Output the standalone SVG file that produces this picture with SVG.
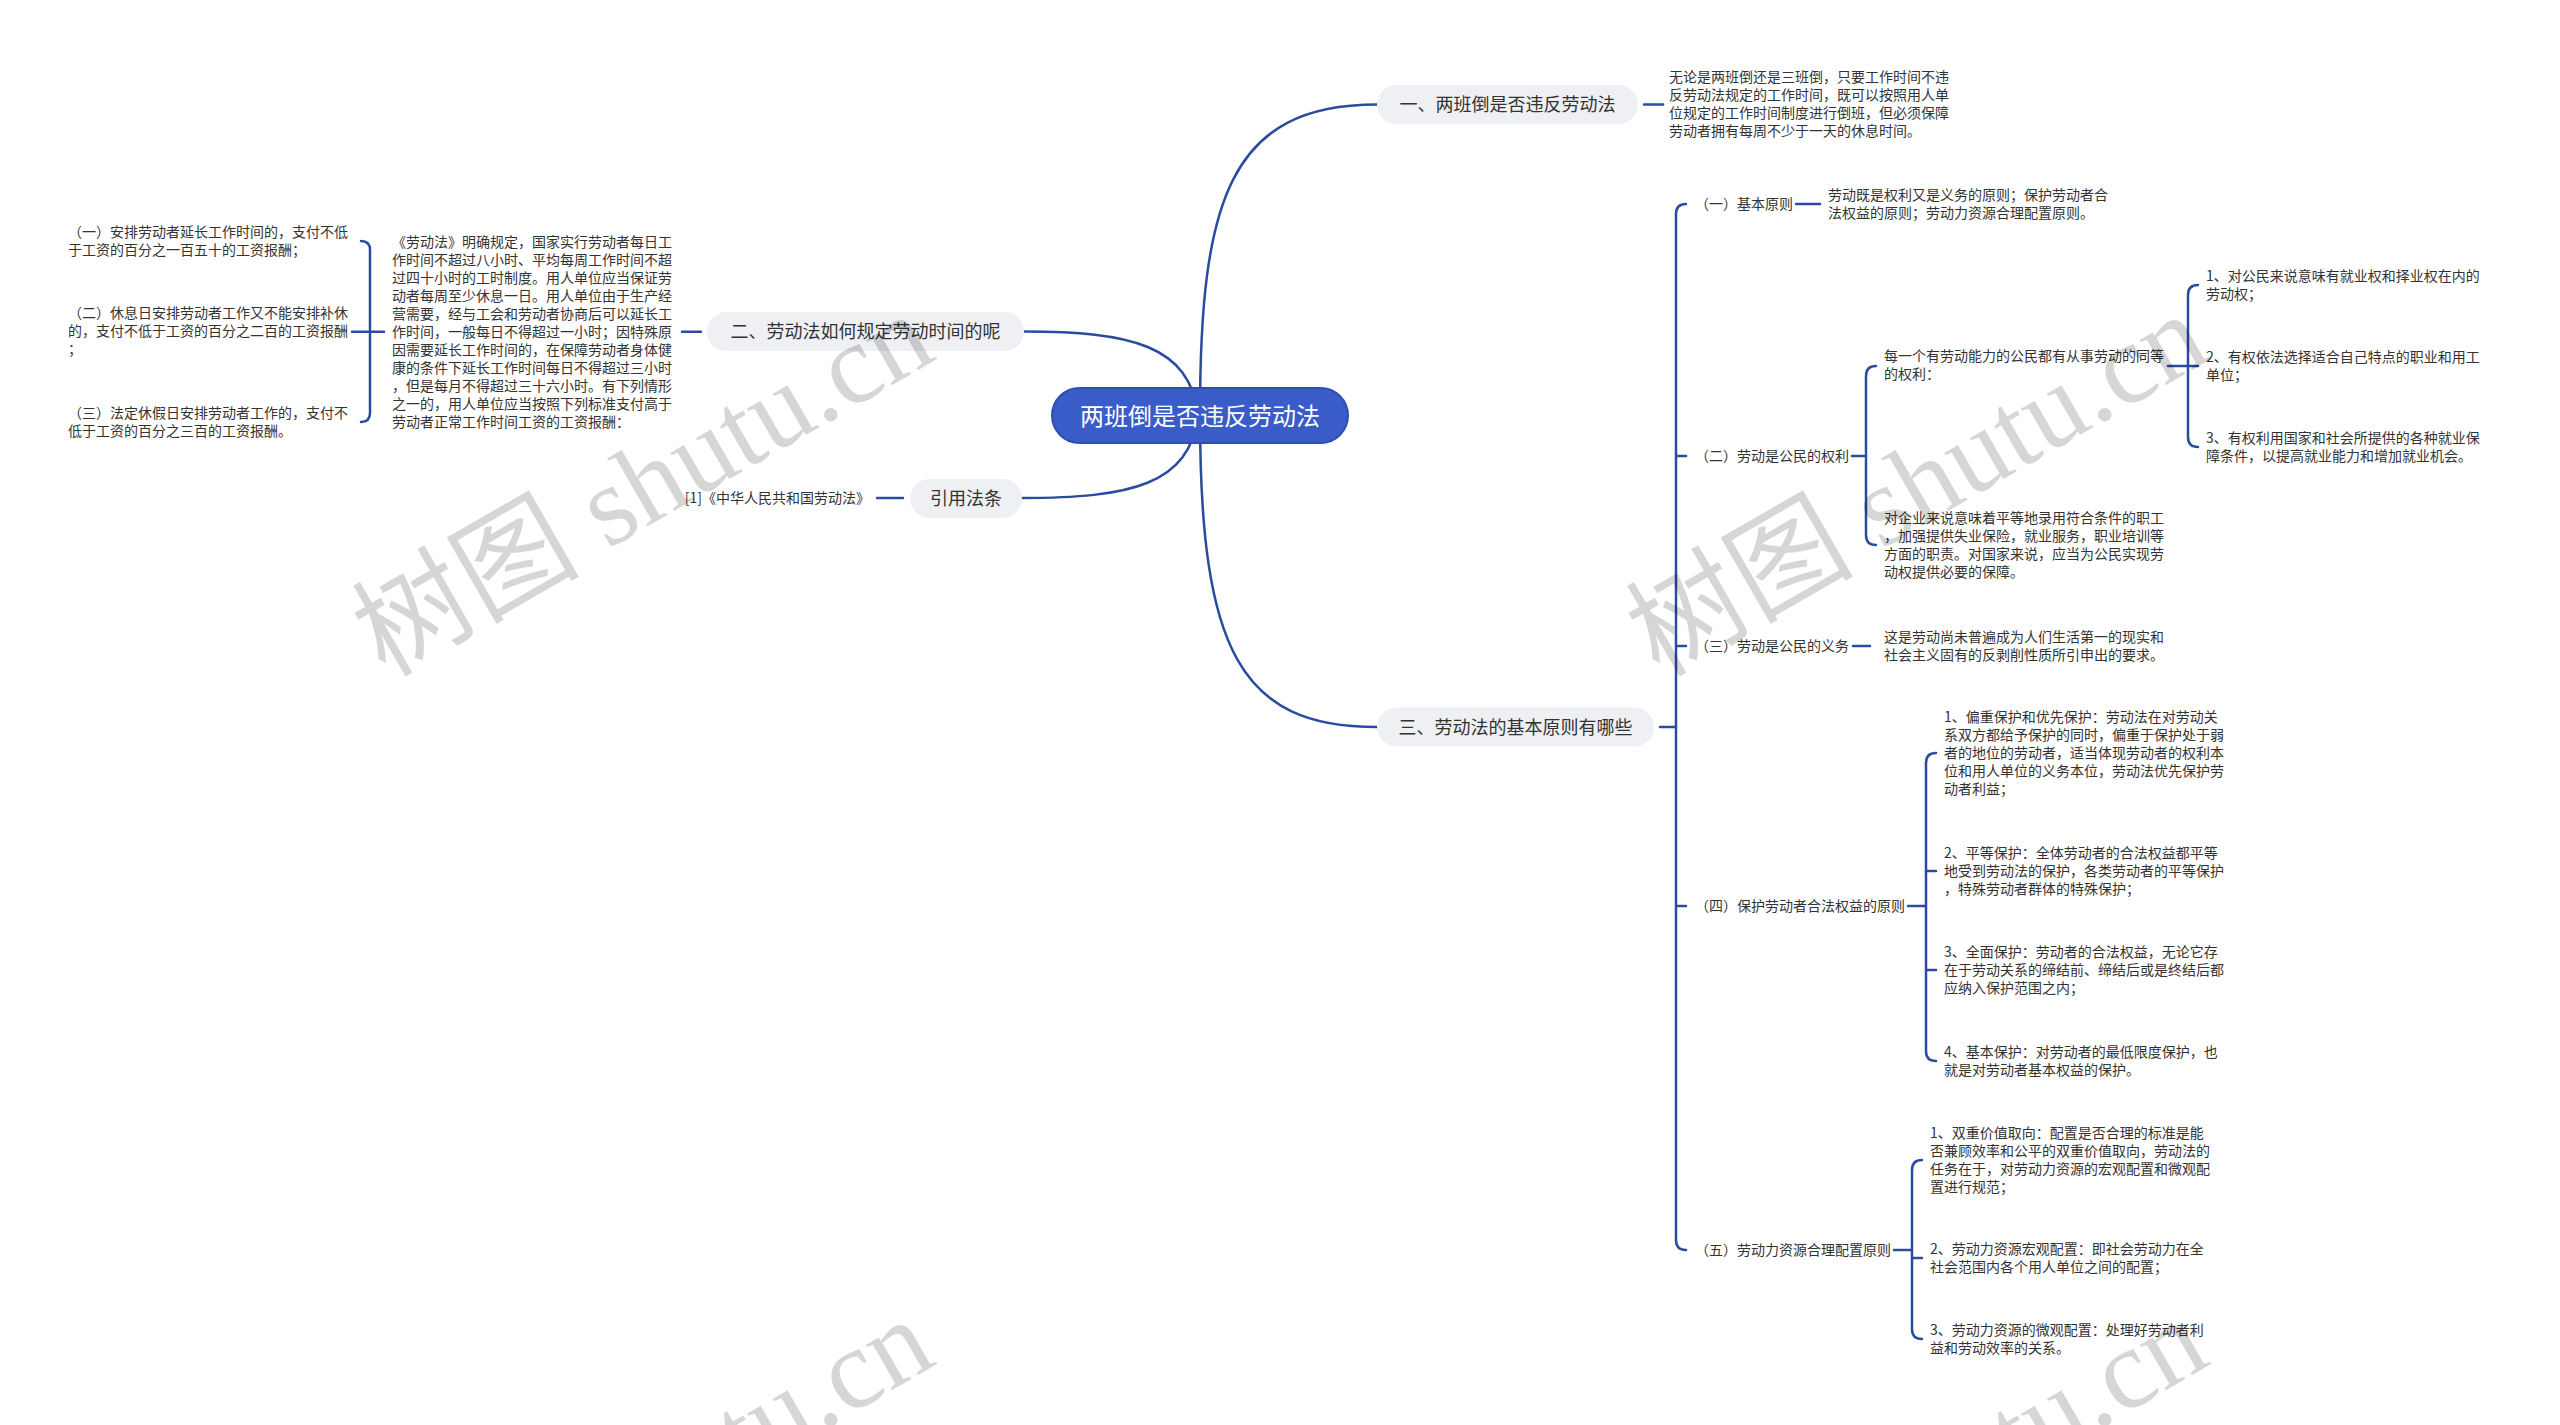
<svg xmlns="http://www.w3.org/2000/svg" width="2560" height="1425" viewBox="0 0 2560 1425">
<style>
.c{fill:none;stroke:#2a4b9e;stroke-width:2.5;stroke-linecap:round}
.pill{fill:#eef0f4}
text{font-family:"Noto Sans CJK SC","Liberation Sans",sans-serif}
.t{font-size:14px;fill:#333}
.p{font-size:18px;fill:#333;text-anchor:middle}
.m{font-size:24px;fill:#fff;text-anchor:middle}
.wm{font-family:"Liberation Serif","Noto Sans CJK SC",serif;font-size:114px;fill:#000;fill-opacity:0.16;text-anchor:middle}
</style>
<rect width="2560" height="1425" fill="#fff"/>
<g id="connectors">
<path class="c" d="M1200 415 C1200 200 1230 104.5 1377 104.5"/>
<path class="c" d="M1198 415 C1190 345 1130 331.5 1024 331.5"/>
<path class="c" d="M1198 415 C1190 485 1130 498 1022 498"/>
<path class="c" d="M1200 415 C1200 650 1240 727 1377 727"/>
<path class="c" d="M1644 104.5 H1663"/>
<path class="c" d="M682 331.7 H701"/>
<path class="c" d="M352 331.7 H384 M361 241 Q370 241 370 250 L370 413 Q370 422 361 422"/>
<path class="c" d="M877 498 H903"/>
<path class="c" d="M1660 727 H1676 M1686 204 Q1676 204 1676 214 L1676 1240 Q1676 1250 1686 1250 M1676 456 H1686 M1676 646 H1686 M1676 906 H1686"/>
<path class="c" d="M1796 204 H1820"/>
<path class="c" d="M1852 456 H1866 M1876 366 Q1866 366 1866 376 L1866 535 Q1866 545 1876 545"/>
<path class="c" d="M2168 366 H2198 M2198 285 Q2188 285 2188 295 L2188 437 Q2188 447 2198 447"/>
<path class="c" d="M1853 646 H1870"/>
<path class="c" d="M1908 906 H1926 M1936 753 Q1926 753 1926 763 L1926 1051 Q1926 1061 1936 1061 M1926 871 H1936 M1926 970 H1936"/>
<path class="c" d="M1894 1250 H1912 M1922 1160 Q1912 1160 1912 1170 L1912 1329 Q1912 1339 1922 1339 M1912 1258 H1922"/>
</g>
<g id="root">
<rect x="1052" y="388" width="296" height="55" rx="27.5" fill="#3a5cc8" stroke="#2e4fae" stroke-width="2"/>
<text class="m" x="1200" y="424.6">两班倒是否违反劳动法</text>
</g>
<g id="b1">
<rect class="pill" x="1377" y="85" width="261" height="39" rx="19.5"/>
<text class="p" x="1507.5" y="111.3">一、两班倒是否违反劳动法</text>
</g>
<g id="b1-leaf">
<text class="t"><tspan x="1669" y="82.3">无论是两班倒还是三班倒，只要工作时间不违</tspan><tspan x="1669" y="100.3">反劳动法规定的工作时间，既可以按照用人单</tspan><tspan x="1669" y="118.3">位规定的工作时间制度进行倒班，但必须保障</tspan><tspan x="1669" y="136.3">劳动者拥有每周不少于一天的休息时间。</tspan></text>
</g>
<g id="b2">
<rect class="pill" x="707" y="312" width="317" height="39" rx="19.5"/>
<text class="p" x="865.5" y="338.3">二、劳动法如何规定劳动时间的呢</text>
</g>
<g id="b2-text">
<text class="t"><tspan x="392" y="247">《劳动法》明确规定，国家实行劳动者每日工</tspan><tspan x="392" y="265">作时间不超过八小时、平均每周工作时间不超</tspan><tspan x="392" y="283">过四十小时的工时制度。用人单位应当保证劳</tspan><tspan x="392" y="301">动者每周至少休息一日。用人单位由于生产经</tspan><tspan x="392" y="319">营需要，经与工会和劳动者协商后可以延长工</tspan><tspan x="392" y="337">作时间，一般每日不得超过一小时；因特殊原</tspan><tspan x="392" y="355">因需要延长工作时间的，在保障劳动者身体健</tspan><tspan x="392" y="373">康的条件下延长工作时间每日不得超过三小时</tspan><tspan x="392" y="391">，但是每月不得超过三十六小时。有下列情形</tspan><tspan x="392" y="409">之一的，用人单位应当按照下列标准支付高于</tspan><tspan x="392" y="427">劳动者正常工作时间工资的工资报酬：</tspan></text>
</g>
<g id="b2-i1">
<text class="t"><tspan x="68" y="237.3">（一）安排劳动者延长工作时间的，支付不低</tspan><tspan x="68" y="255.3">于工资的百分之一百五十的工资报酬；</tspan></text>
</g>
<g id="b2-i2">
<text class="t"><tspan x="68" y="318.3">（二）休息日安排劳动者工作又不能安排补休</tspan><tspan x="68" y="336.3">的，支付不低于工资的百分之二百的工资报酬</tspan><tspan x="68" y="354.3">；</tspan></text>
</g>
<g id="b2-i3">
<text class="t"><tspan x="68" y="418.3">（三）法定休假日安排劳动者工作的，支付不</tspan><tspan x="68" y="436.3">低于工资的百分之三百的工资报酬。</tspan></text>
</g>
<g id="b-cite">
<rect class="pill" x="910" y="479" width="112" height="39" rx="19.5"/>
<text class="p" x="966" y="504.8">引用法条</text>
</g>
<g id="cite-leaf">
<text class="t" x="870" y="503.3" text-anchor="end">[1]《中华人民共和国劳动法》</text>
</g>
<g id="b3">
<rect class="pill" x="1377" y="707.5" width="277" height="39" rx="19.5"/>
<text class="p" x="1515.5" y="733.8">三、劳动法的基本原则有哪些</text>
</g>
<g id="s1">
<text class="t" x="1695" y="209.3">（一）基本原则</text>
</g>
<g id="s1-leaf">
<text class="t"><tspan x="1828" y="200.3">劳动既是权利又是义务的原则；保护劳动者合</tspan><tspan x="1828" y="218.3">法权益的原则；劳动力资源合理配置原则。</tspan></text>
</g>
<g id="s2">
<text class="t" x="1695" y="461.3">（二）劳动是公民的权利</text>
</g>
<g id="s2-a">
<text class="t"><tspan x="1884" y="361.3">每一个有劳动能力的公民都有从事劳动的同等</tspan><tspan x="1884" y="379.3">的权利：</tspan></text>
</g>
<g id="s2-a1">
<text class="t"><tspan x="2206" y="281.3">1、对公民来说意味有就业权和择业权在内的</tspan><tspan x="2206" y="299.3">劳动权；</tspan></text>
</g>
<g id="s2-a2">
<text class="t"><tspan x="2206" y="362.3">2、有权依法选择适合自己特点的职业和用工</tspan><tspan x="2206" y="380.3">单位；</tspan></text>
</g>
<g id="s2-a3">
<text class="t"><tspan x="2206" y="443.3">3、有权利用国家和社会所提供的各种就业保</tspan><tspan x="2206" y="461.3">障条件，以提高就业能力和增加就业机会。</tspan></text>
</g>
<g id="s2-b">
<text class="t"><tspan x="1884" y="523.3">对企业来说意味着平等地录用符合条件的职工</tspan><tspan x="1884" y="541.3">，加强提供失业保险，就业服务，职业培训等</tspan><tspan x="1884" y="559.3">方面的职责。对国家来说，应当为公民实现劳</tspan><tspan x="1884" y="577.3">动权提供必要的保障。</tspan></text>
</g>
<g id="s3">
<text class="t" x="1695" y="651.3">（三）劳动是公民的义务</text>
</g>
<g id="s3-leaf">
<text class="t"><tspan x="1884" y="642.3">这是劳动尚未普遍成为人们生活第一的现实和</tspan><tspan x="1884" y="660.3">社会主义固有的反剥削性质所引申出的要求。</tspan></text>
</g>
<g id="s4">
<text class="t" x="1695" y="911.3">（四）保护劳动者合法权益的原则</text>
</g>
<g id="s4-1">
<text class="t"><tspan x="1944" y="722.3">1、偏重保护和优先保护：劳动法在对劳动关</tspan><tspan x="1944" y="740.3">系双方都给予保护的同时，偏重于保护处于弱</tspan><tspan x="1944" y="758.3">者的地位的劳动者，适当体现劳动者的权利本</tspan><tspan x="1944" y="776.3">位和用人单位的义务本位，劳动法优先保护劳</tspan><tspan x="1944" y="794.3">动者利益；</tspan></text>
</g>
<g id="s4-2">
<text class="t"><tspan x="1944" y="858.3">2、平等保护：全体劳动者的合法权益都平等</tspan><tspan x="1944" y="876.3">地受到劳动法的保护，各类劳动者的平等保护</tspan><tspan x="1944" y="894.3">，特殊劳动者群体的特殊保护；</tspan></text>
</g>
<g id="s4-3">
<text class="t"><tspan x="1944" y="957.3">3、全面保护：劳动者的合法权益，无论它存</tspan><tspan x="1944" y="975.3">在于劳动关系的缔结前、缔结后或是终结后都</tspan><tspan x="1944" y="993.3">应纳入保护范围之内；</tspan></text>
</g>
<g id="s4-4">
<text class="t"><tspan x="1944" y="1057.3">4、基本保护：对劳动者的最低限度保护，也</tspan><tspan x="1944" y="1075.3">就是对劳动者基本权益的保护。</tspan></text>
</g>
<g id="s5">
<text class="t" x="1695" y="1255.3">（五）劳动力资源合理配置原则</text>
</g>
<g id="s5-1">
<text class="t"><tspan x="1930" y="1138.3">1、双重价值取向：配置是否合理的标准是能</tspan><tspan x="1930" y="1156.3">否兼顾效率和公平的双重价值取向，劳动法的</tspan><tspan x="1930" y="1174.3">任务在于，对劳动力资源的宏观配置和微观配</tspan><tspan x="1930" y="1192.3">置进行规范；</tspan></text>
</g>
<g id="s5-2">
<text class="t"><tspan x="1930" y="1254.3">2、劳动力资源宏观配置：即社会劳动力在全</tspan><tspan x="1930" y="1272.3">社会范围内各个用人单位之间的配置；</tspan></text>
</g>
<g id="s5-3">
<text class="t"><tspan x="1930" y="1335.3">3、劳动力资源的微观配置：处理好劳动者利</tspan><tspan x="1930" y="1353.3">益和劳动效率的关系。</tspan></text>
</g>
<g id="watermark">
<text class="wm" x="662" y="518" transform="rotate(-30 662 518)">树图 shutu.cn</text>
<text class="wm" x="1936" y="518" transform="rotate(-30 1936 518)">树图 shutu.cn</text>
<text class="wm" x="662" y="1523" transform="rotate(-30 662 1523)">树图 shutu.cn</text>
<text class="wm" x="1936" y="1523" transform="rotate(-30 1936 1523)">树图 shutu.cn</text>
</g>
</svg>
